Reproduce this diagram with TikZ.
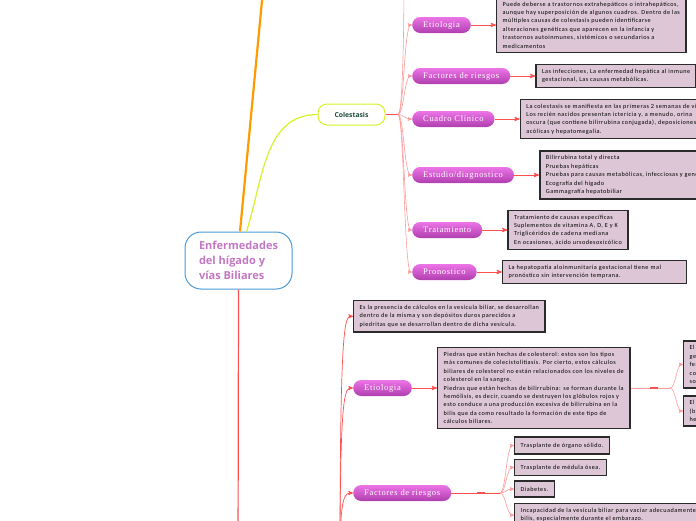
\documentclass[tikz,border=0pt]{standalone}
\usepackage{fontspec}
\usepackage{tikz}
\usetikzlibrary{arrows,positioning,decorations.markings}
\newfontfamily\rootfont{Open Sans}
\newfontfamily\notefont[LetterSpace=8]{Carlito}
\newfontfamily\topicfont[LetterSpace=8]{Liberation Serif}

\definecolor{linkred}{HTML}{FF4F4F}
\definecolor{twigred}{HTML}{FF9A9A}
\definecolor{notefill}{HTML}{DDC7D6}
\definecolor{noteline}{HTML}{2B2B2B}
\definecolor{rootblue}{HTML}{4A9AD8}
\definecolor{rootpink}{HTML}{C277C2}
\definecolor{topictop}{HTML}{EC74E6}
\definecolor{topicbot}{HTML}{B03EAE}
\definecolor{limegreen}{HTML}{D6F02A}
\definecolor{darkteal}{HTML}{1B4A3C}
\definecolor{branchorange}{HTML}{FF9A00}

\tikzset{
  root/.style={draw=rootblue, line width=1pt, fill=white, rounded corners=16pt,
    minimum width=107pt, minimum height=57pt, text=rootpink, align=left,
    font=\rootfont\bfseries\fontsize{11}{15}\selectfont},
  subject/.style={draw=limegreen, line width=1pt, fill=white, rounded corners=9pt,
    minimum width=67pt, minimum height=21pt, text=darkteal,
    font=\rootfont\bfseries\fontsize{6.8}{8}\selectfont},
  topic/.style={top color=topictop, bottom color=topicbot, rounded corners=8pt,
    minimum height=16pt, inner xsep=11pt, text=white,
    font=\topicfont\fontsize{8.5}{9}\selectfont},
  note/.style={draw=noteline, line width=1.4pt, fill=notefill, align=left,
    inner xsep=6pt, inner ysep=4.5pt, font=\notefont\fontsize{6.2}{8.4}\selectfont},
  link/.style={draw=linkred, line width=0.9pt, ->},
  twig/.style={draw=twigred, line width=0.6pt, ->},
  knot/.style={decoration={markings, mark=at position 0.6 with
    {\draw[linkred, line width=2pt, -] (-4pt,0) -- (4pt,0);}}, postaction=decorate},
}

\begin{document}
\begin{tikzpicture}[x=1pt,y=-1pt,>=stealth',node distance=25pt]
\useasboundingbox (0,0) rectangle (696,520);

% centre and main branches
\node[root] (root) at (238.5,260.5) {Enfermedades\\del hígado y\\vías Biliares};
\node[subject] (cole) at (351.5,114.5) {Colestasis};
\coordinate (topoff) at (263,-10);
\coordinate (colelit) at (238,560);
\draw[branchorange, line width=2.2pt] ([xshift=1.5pt]root.north) -- (topoff);
\draw[limegreen, line width=1.2pt] ([xshift=8pt]root.north) to[out=72,in=180] (cole.west);
\draw[linkred, line width=1.2pt] (root.south) -- (colelit);

% Colestasis
\coordinate (cfork) at (398,114.5);
\coordinate (cbend) at (404,114.5);
\coordinate (defin) at (404,-20);
\draw[linkred, line width=1.3pt] (cole.east) -- (cfork);

\node[topic, anchor=west] (etio) at (412,25) {Etiologia};
\node[topic, anchor=west] (fact) at (412,76) {Factores de riesgos};
\node[topic, anchor=west] (cuad) at (412,119) {Cuadro Clínico};
\node[topic, anchor=west] (estu) at (412,175) {Estudio/diagnostico};
\node[topic, anchor=west] (trat) at (412,230) {Tratamiento};
\node[topic, anchor=west] (pron) at (412,272) {Pronostico};

\draw[twigred, line width=0.6pt] (cfork) .. controls (cbend) and (cbend |- defin) .. (defin);
\foreach \t in {etio,fact,cuad,estu,trat,pron}
  \draw[twig] (cfork) .. controls (cbend) and (cbend |- \t.west) .. (\t.west);

\node[note, right=of etio] (etion) {Puede deberse a trastornos extrahepáticos o intrahepáticos,\\
  aunque hay superposición de algunos cuadros. Dentro de las\\
  múltiples causas de colestasis pueden identificarse\\
  alteraciones genéticas que aparecen en la infancia y\\
  trastornos autoinmunes, sistémicos o secundarios a\\
  medicamentos};
\node[note, right=of fact] (factn) {Las infecciones, La enfermedad hepática al inmune\\
  gestacional, Las causas metabólicas.};
\node[note, right=of cuad] (cuadn) {La colestasis se manifiesta en las primeras 2 semanas de vida.\\
  Los recién nacidos presentan ictericia y, a menudo, orina\\
  oscura (que contiene bilirrubina conjugada), deposiciones\\
  acólicas y hepatomegalia.};
\node[note, right=of estu] (estun) {Bilirrubina total y directa\\
  Pruebas hepáticas\\
  Pruebas para causas metabólicas, infecciosas y genéticas\\
  Ecografía del hígado\\
  Gammagrafía hepatobiliar};
\node[note, right=of trat] (tratn) {Tratamiento de causas específicas\\
  Suplementos de vitamina A, D, E y K\\
  Triglicéridos de cadena mediana\\
  En ocasiones, ácido ursodesoxicólico};
\node[note, right=of pron, text width=172pt] (pronn) {La hepatopatía aloinmunitaria gestacional tiene mal\\
  pronóstico sin intervención temprana.};

\foreach \t in {etio,fact,cuad,estu,trat,pron}
  \draw[link] (\t) -- (\t n);

% lower branch
\coordinate (lfork) at (340,560);
\node[note, anchor=north west] (defn) at (353,300) {Es la presencia de cálculos en la vesícula biliar, se desarrollan\\
  dentro de la misma y son depósitos duros parecidos a\\
  piedritas que se desarrollan dentro de dicha vesícula.};
\node[topic, anchor=west] (etio2) at (353,388) {Etiologia};
\node[topic, anchor=west] (fact2) at (353,493) {Factores de riesgos};
\foreach \t in {defn,etio2,fact2}
  \draw[link, line width=0.7pt] (lfork) .. controls (lfork |- \t.west) and ([xshift=-8pt]\t.west) .. (\t.west);

\node[note, right=of etio2] (etio2n) {Piedras que están hechas de colesterol: estos son los tipos\\
  más comunes de colecistolitiasis. Por cierto, estos cálculos\\
  biliares de colesterol no están relacionados con los niveles de\\
  colesterol en la sangre.\\
  Piedras que están hechas de bilirrubina: se forman durante la\\
  hemólisis, es decir, cuando se destruyen los glóbulos rojos y\\
  esto conduce a una producción excesiva de bilirrubina en la\\
  bilis que da como resultado la formación de este tipo de\\
  cálculos biliares.};
\draw[link] (etio2) -- (etio2n);

\coordinate (efork) at (670,388);
\coordinate (ebend) at (676,388);
\draw[twigred, line width=0.7pt, knot] (etio2n.east) -- (efork);
\node[note, anchor=west, text width=70pt] (choln) at (683,364.5) {El\\ge\\fer\\co\\sol};
\node[note, anchor=west, text width=70pt] (bilin) at (683,411) {El 2\\(bi\\he};
\foreach \t in {choln,bilin}
  \draw[twig] (efork) .. controls (ebend) and (ebend |- \t.west) .. (\t.west);

\coordinate (ffork) at (500,493);
\coordinate (fbend) at (506,493);
\draw[linkred, line width=0.7pt, knot] (fact2.east) -- (ffork);
\node[note, anchor=west, minimum height=17pt] (tras1) at (514,445.5) {Trasplante de órgano sólido.};
\node[note, anchor=west, minimum height=16pt] (tras2) at (514,467.5) {Trasplante de médula ósea.};
\node[note, anchor=west, minimum height=16pt] (diab) at (514,489) {Diabetes.};
\node[note, anchor=north west] (inca) at (514,503) {Incapacidad de la vesícula biliar para vaciar adecuadamente la\\
  bilis, especialmente durante el embarazo.};
\foreach \t in {tras1,tras2,diab,inca}
  \draw[twig] (ffork) .. controls (fbend) and (fbend |- \t.west) .. (\t.west);
\end{tikzpicture}
\end{document}
